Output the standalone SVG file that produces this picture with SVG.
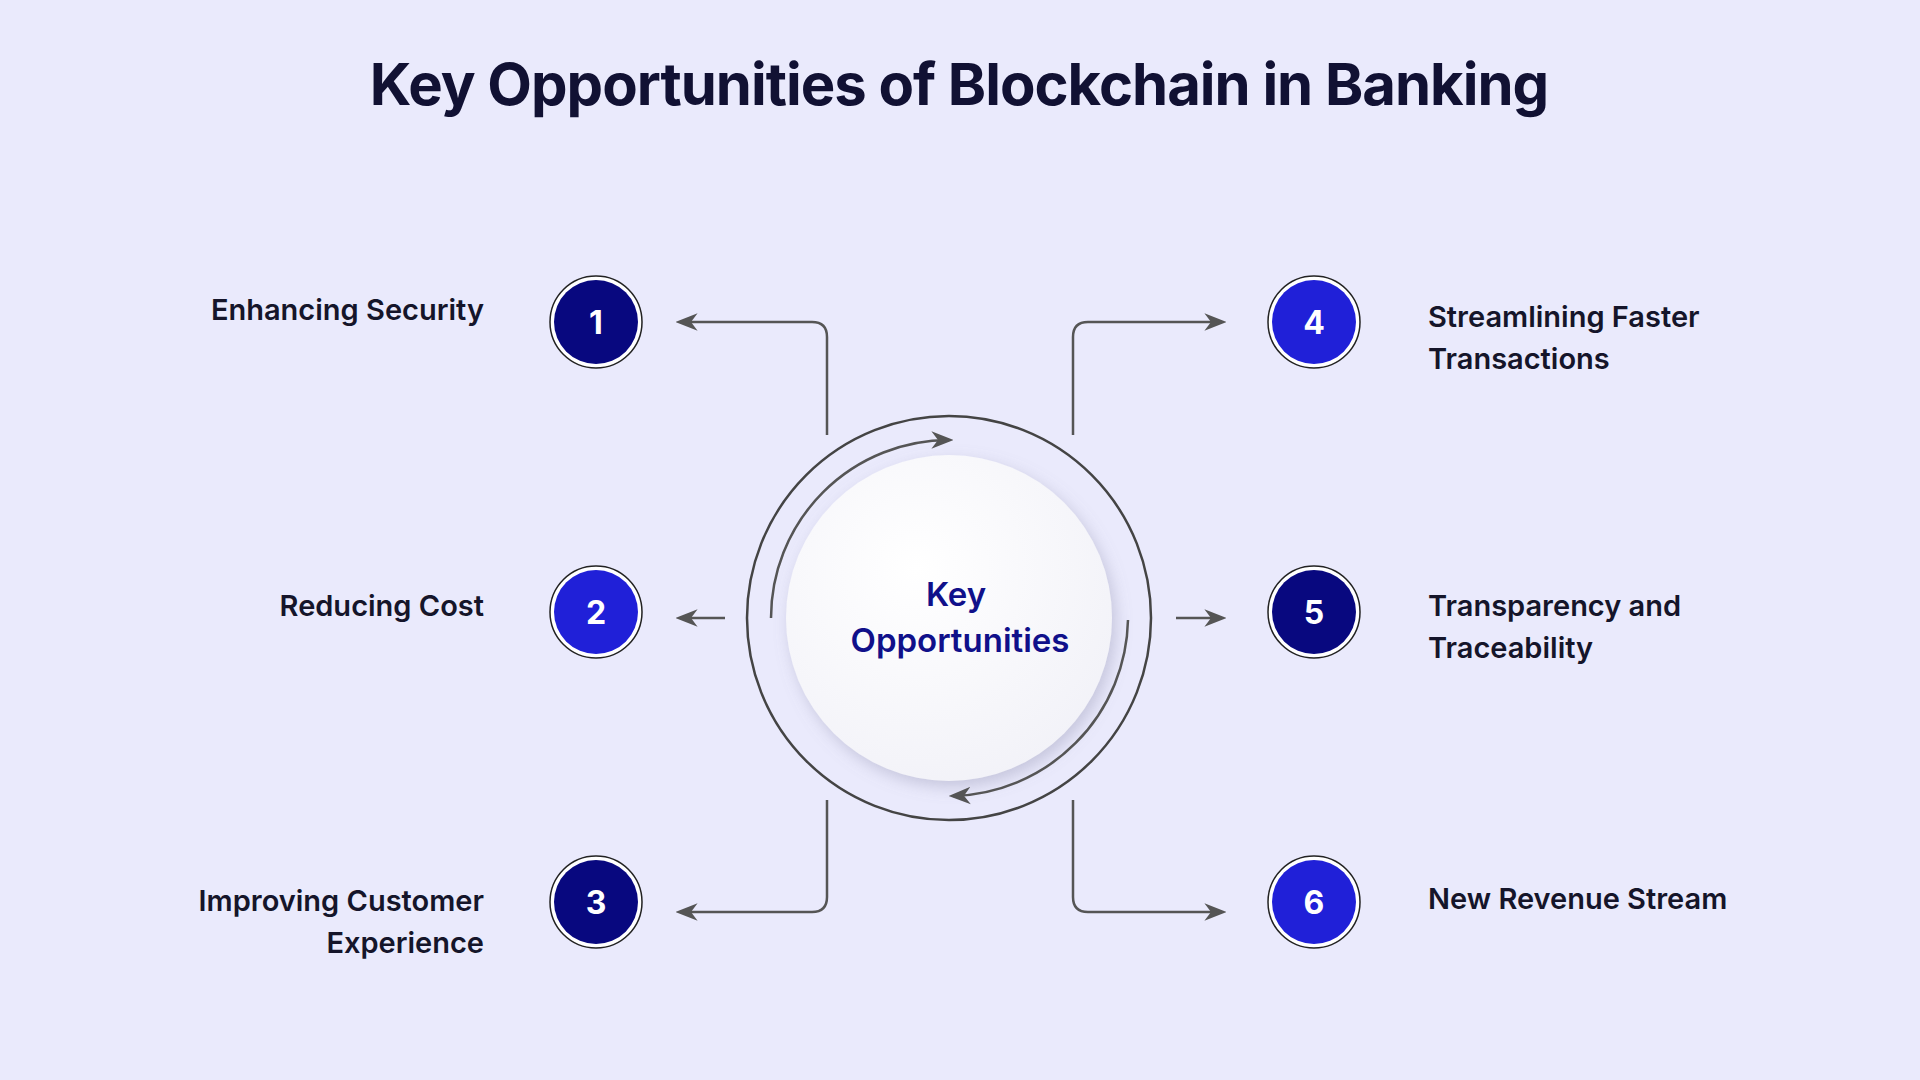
<svg xmlns="http://www.w3.org/2000/svg" width="1920" height="1080" viewBox="0 0 1920 1080">
<defs>
<marker id="ah" viewBox="0 0 10 10" refX="9" refY="5" markerWidth="6" markerHeight="6" orient="auto-start-reverse" markerUnits="userSpaceOnUse">
<path d="M0,0 L10,5 L0,10 L3,5 Z" fill="#555"/>
</marker>
<marker id="ah2" viewBox="0 0 10 10" refX="8" refY="5" markerWidth="22" markerHeight="22" orient="auto" markerUnits="userSpaceOnUse">
<path d="M0,1 L10,5 L0,9 L3,5 Z" fill="#555"/>
</marker>
<radialGradient id="wg" cx="0.4" cy="0.35" r="0.7">
<stop offset="0" stop-color="#ffffff"/><stop offset="1" stop-color="#f2f2f8"/>
</radialGradient>
<filter id="sh" x="-20%" y="-20%" width="140%" height="140%"><feDropShadow dx="4" dy="6" stdDeviation="8" flood-color="#8080a0" flood-opacity="0.35"/></filter>
</defs>
<style>
text{font-family:Inter,"Open Sans","Liberation Sans",sans-serif;}
.t{font-size:58px;font-weight:700;fill:#111133;letter-spacing:-1px}
.l{font-size:29px;font-weight:600;fill:#15152a;dominant-baseline:central}
.n{font-size:32px;font-weight:700;fill:#fff;text-anchor:middle;dominant-baseline:central}
.c{font-size:33px;font-weight:600;fill:#10108a;text-anchor:middle;dominant-baseline:central}
.ln{fill:none;stroke:#555;stroke-width:2.5}
.dk{fill:#08087f}.bl{fill:#2020d8}
.ring{fill:#fff;stroke:#222;stroke-width:1.5}
</style>
<rect width="1920" height="1080" fill="#eaeafc"/>
<text class="t" x="959" y="105" text-anchor="middle">Key Opportunities of Blockchain in Banking</text>
<g id="connectors">
<path class="ln" d="M827,435 V337 Q827,322 812,322 H680" marker-end="url(#ah2)"/>
<path class="ln" d="M1073,435 V337 Q1073,322 1088,322 H1222" marker-end="url(#ah2)"/>
<path class="ln" d="M725,618 H680" marker-end="url(#ah2)"/>
<path class="ln" d="M1176,618 H1222" marker-end="url(#ah2)"/>
<path class="ln" d="M827,800 V897 Q827,912 812,912 H680" marker-end="url(#ah2)"/>
<path class="ln" d="M1073,800 V897 Q1073,912 1088,912 H1222" marker-end="url(#ah2)"/>
</g>
<g id="center">
<circle cx="949" cy="618" r="202" fill="none" stroke="#444" stroke-width="2.5"/>
<circle cx="949" cy="618" r="163" fill="url(#wg)" filter="url(#sh)"/>
<path class="ln" d="M771,618 A178,178 0 0 1 949,440" marker-end="url(#ah2)"/>
<path class="ln" d="M1128,620 A180,180 0 0 1 953,796" marker-end="url(#ah2)"/>
<text class="c" x="956" y="594">Key</text>
<text class="c" x="960" y="640">Opportunities</text>
</g>
<g id="n1"><circle class="ring" cx="596" cy="322" r="46"/><circle class="dk" cx="596" cy="322" r="42"/><text class="n" x="596" y="322">1</text>
<text class="l" x="484" y="309" text-anchor="end">Enhancing Security</text></g>
<g id="n2"><circle class="ring" cx="596" cy="612" r="46"/><circle class="bl" cx="596" cy="612" r="42"/><text class="n" x="596" y="612">2</text>
<text class="l" x="484" y="605" text-anchor="end">Reducing Cost</text></g>
<g id="n3"><circle class="ring" cx="596" cy="902" r="46"/><circle class="dk" cx="596" cy="902" r="42"/><text class="n" x="596" y="902">3</text>
<text class="l" x="484" y="900" text-anchor="end">Improving Customer</text><text class="l" x="484" y="942" text-anchor="end">Experience</text></g>
<g id="n4"><circle class="ring" cx="1314" cy="322" r="46"/><circle class="bl" cx="1314" cy="322" r="42"/><text class="n" x="1314" y="322">4</text>
<text class="l" x="1428" y="316">Streamlining Faster</text><text class="l" x="1428" y="358">Transactions</text></g>
<g id="n5"><circle class="ring" cx="1314" cy="612" r="46"/><circle class="dk" cx="1314" cy="612" r="42"/><text class="n" x="1314" y="612">5</text>
<text class="l" x="1428" y="605">Transparency and</text><text class="l" x="1428" y="647">Traceability</text></g>
<g id="n6"><circle class="ring" cx="1314" cy="902" r="46"/><circle class="bl" cx="1314" cy="902" r="42"/><text class="n" x="1314" y="902">6</text>
<text class="l" x="1428" y="898">New Revenue Stream</text></g>
</svg>
